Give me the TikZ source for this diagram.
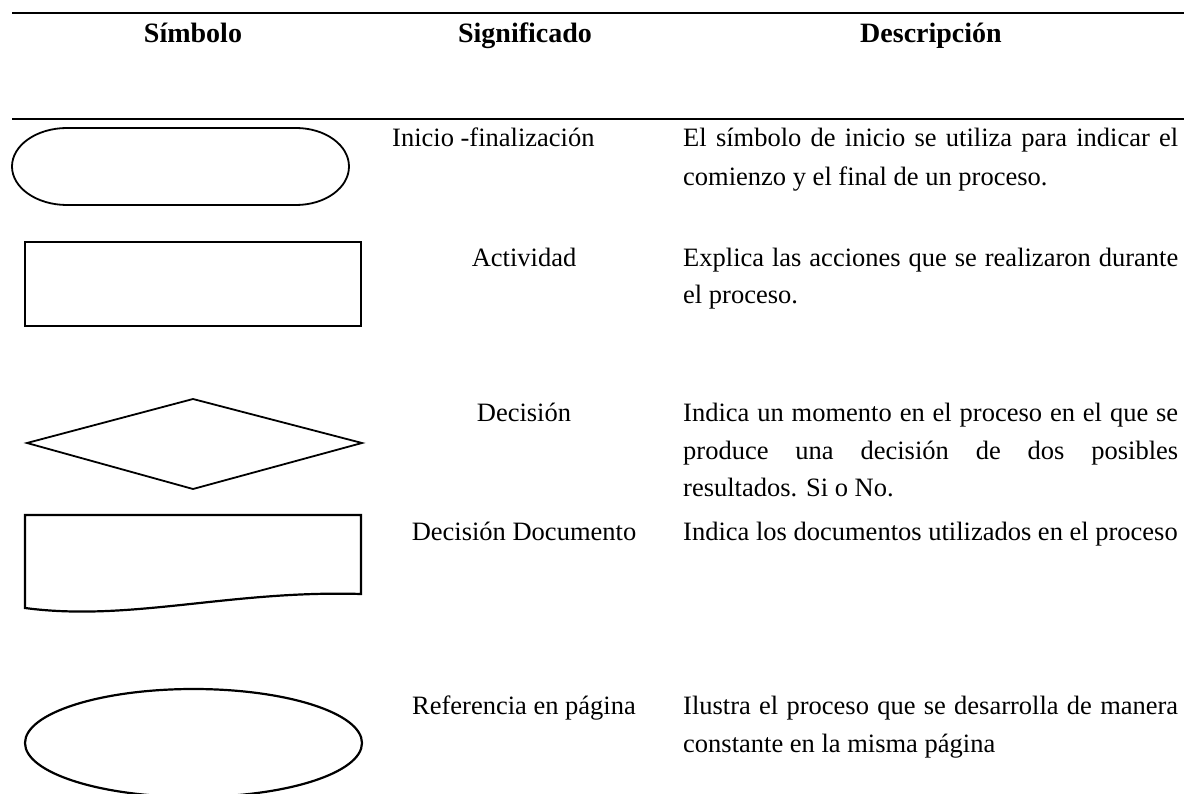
\documentclass[tikz,border=0pt]{standalone}
\usepackage{fontspec}
\setmainfont{Liberation Serif}
\newcommand\jline[1]{\makebox[495pt][s]{#1}}
\begin{document}
\begin{tikzpicture}[x=1pt,y=-1pt,
  hdr/.style={font=\fontsize{28}{32}\selectfont\bfseries, inner sep=0, anchor=base},
  txt/.style={font=\fontsize{26.5}{30}\selectfont, inner sep=0},
  dtxt/.style={txt, anchor=base west},
  rule/.style={line width=2pt},
  shp/.style={line width=1.8pt, line join=miter},
  shpb/.style={line width=2.2pt}]
\useasboundingbox (0,0) rectangle (1184,794);
\fill[white] (0,0) rectangle (1184,794);
% rules
\draw[rule] (12,12.7) -- (1184,12.7);
\draw[rule] (12,119.5) -- (1184,119.5);
% headers
\node[hdr] (h1) at (193,43) {Símbolo};
\node[hdr] (h2) at (525,43) {Significado};
\node[hdr] (h3) at (931,43) {Descripción};
% symbols
\draw[shp] (67,128) -- (296,128) .. controls (325.3,128) and (349,145.2) .. (349,166.5)
  .. controls (349,187.8) and (325.3,205) .. (296,205) -- (67,205)
  .. controls (36.6,205) and (12,187.8) .. (12,166.5)
  .. controls (12,145.2) and (36.6,128) .. (67,128) -- cycle;
\draw[shpb] (25,242) rectangle (361,326);
\draw[shp] (27,443) -- (193,399) -- (362,443) -- (193,489) -- cycle;
\draw[shpb] (25,608) -- (25,515) -- (361,515) -- (361,594)
  .. controls (230,590) and (130,622) .. (25,608) -- cycle;
\begin{scope}
\clip (0,0) rectangle (1184,794);
\draw[shpb] (193.5,743) ellipse [x radius=168.5, y radius=54];
\end{scope}
% meanings
\node[txt, anchor=base west] (s1) at (392,147) {Inicio -finalización};
\node[txt, anchor=base] (s2) at (524,267) {Actividad};
\node[txt, anchor=base] (s3) at (524,421) {Decisión};
\node[txt, anchor=base] (s4) at (524,540) {Decisión Documento};
\node[txt, anchor=base] (s5) at (524,714) {Referencia en página};
% descriptions
\node[dtxt] (d1a) at (683,147) {\jline{El símbolo de inicio se utiliza para indicar el}};
\node[dtxt] (d1b) at (683,186) {comienzo y el final de un proceso.};
\node[dtxt] (d2a) at (683,267) {\jline{Explica las acciones que se realizaron durante}};
\node[dtxt] (d2b) at (683,304) {el proceso.};
\node[dtxt] (d3a) at (683,421) {\jline{Indica un momento en el proceso en el que se}};
\node[dtxt] (d3b) at (683,459) {\jline{produce una decisión de dos posibles}};
\node[dtxt] (d3c) at (683,496) {resultados. Si o No.};
\node[dtxt] (d4a) at (683,540) {Indica los documentos utilizados en el proceso};
\node[dtxt] (d5a) at (683,714) {\jline{Ilustra el proceso que se desarrolla de manera}};
\node[dtxt] (d5b) at (683,752) {constante en la misma página};
\end{tikzpicture}
\end{document}
